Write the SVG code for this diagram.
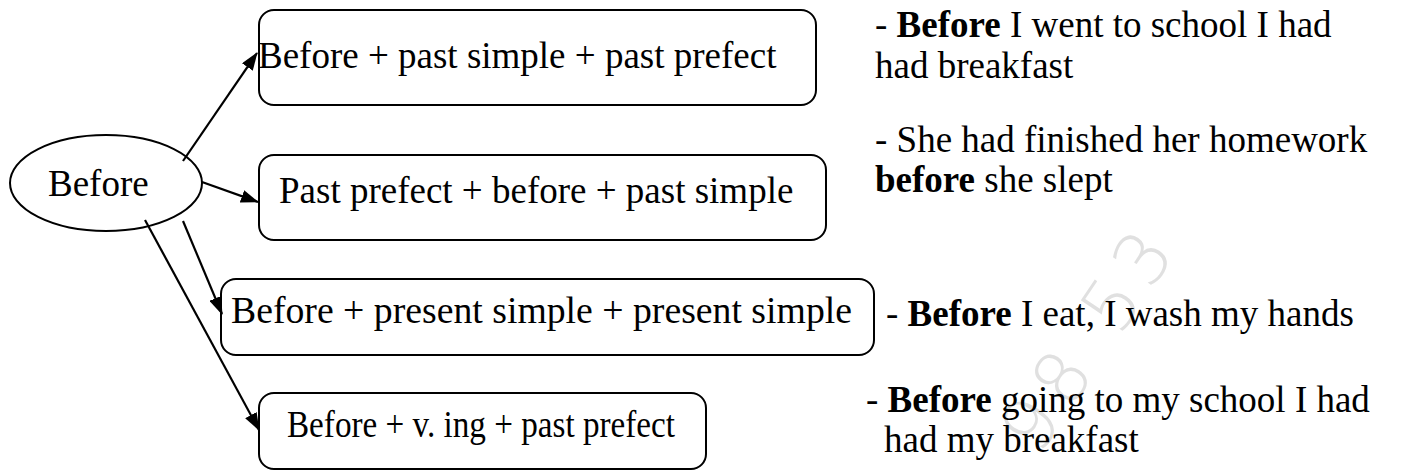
<svg xmlns="http://www.w3.org/2000/svg" width="1403" height="471" viewBox="0 0 1403 471">
  <style>
    text { font-family: "Liberation Serif", "Times New Roman", serif; font-size: 37px; fill: #000; }
    .b { font-weight: bold; }
    .box { fill: #fff; stroke: #000; stroke-width: 2; }
    .edge { fill: none; stroke: #000; stroke-width: 2.2; }
    .wm { font-family: "DejaVu Sans", sans-serif; font-weight: 200; font-size: 72px; letter-spacing: 10px; fill: #e0e0e0; }
  </style>
  <defs>
    <marker id="arrow" viewBox="0 0 18 13" refX="17" refY="6.5" markerWidth="18" markerHeight="13" markerUnits="userSpaceOnUse" orient="auto">
      <path d="M0,0 L18,6.5 L0,13 z" fill="#000"/>
    </marker>
  </defs>

  <!-- faint background mark -->
  <text class="wm" transform="translate(1094,340) rotate(-56)" text-anchor="middle" dominant-baseline="middle">98 53</text>

  <!-- central node -->
  <g id="node-before">
    <ellipse cx="106" cy="183" rx="96" ry="48" fill="#fff" stroke="#000" stroke-width="2"/>
    <text x="48" y="196">Before</text>
  </g>

  <!-- pattern nodes -->
  <g id="node-past-simple-past-perfect">
    <rect class="box" x="259" y="10" width="557" height="95" rx="15"/>
    <text x="258" y="68">Before + past simple + past prefect</text>
  </g>
  <g id="node-past-perfect-before">
    <rect class="box" x="259" y="155" width="567" height="85" rx="15"/>
    <text x="279" y="203">Past prefect + before + past simple</text>
  </g>
  <g id="node-present-simple">
    <rect class="box" x="221" y="279" width="653" height="76" rx="15"/>
    <text x="231" y="323" textLength="621" lengthAdjust="spacingAndGlyphs">Before + present simple + present simple</text>
  </g>
  <g id="node-v-ing">
    <rect class="box" x="259" y="393" width="447" height="76" rx="15"/>
    <text x="287" y="437" textLength="388" lengthAdjust="spacingAndGlyphs">Before + v. ing + past prefect</text>
  </g>

  <!-- example sentences -->
  <g id="example-1">
    <text x="875" y="37">- <tspan class="b">Before</tspan> I went to school I had</text>
    <text x="875" y="78">had breakfast</text>
  </g>
  <g id="example-2">
    <text x="875" y="152">- She had finished her homework</text>
    <text x="875" y="192"><tspan class="b">before</tspan> she slept</text>
  </g>
  <g id="example-3">
    <text x="886" y="326">- <tspan class="b">Before</tspan> I eat, I wash my hands</text>
  </g>
  <g id="example-4">
    <text x="866" y="412">- <tspan class="b">Before</tspan> going to my school I had</text>
    <text x="884" y="452">had my breakfast</text>
  </g>

  <!-- connectors -->
  <g id="connectors">
    <line class="edge" x1="183" y1="161" x2="257" y2="53" marker-end="url(#arrow)"/>
    <line class="edge" x1="202" y1="182" x2="258" y2="202" marker-end="url(#arrow)"/>
    <line class="edge" x1="183" y1="221" x2="222" y2="314" marker-end="url(#arrow)"/>
    <line class="edge" x1="145" y1="220" x2="259" y2="430" marker-end="url(#arrow)"/>
  </g>
</svg>
